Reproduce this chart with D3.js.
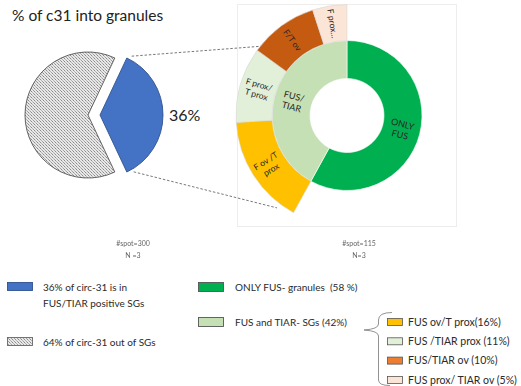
<!DOCTYPE html>
<html>
<head>
<meta charset="utf-8">
<script src="https://cdn.jsdelivr.net/npm/d3@7"></script>
<style>
  html, body { margin: 0; padding: 0; background: #fff; }
  svg { display: block; font-family: Lato, "Noto Sans", sans-serif; }
  svg text { white-space: pre; }
</style>
</head>
<body>
<svg id="chart" width="521" height="386"></svg>
<script>
// Share of circ-31 spots inside / outside FUS-TIAR granules
const mainNames = ["in SGs", "out of SGs"];
const mainValues = [36, 64];
const mainColors = ["#4472C4", "url(#dots)"];
const mainStrokes = ["#2F528F", "#555"];

// Granule breakdown: inner ring
const innerNames = [["ONLY", "FUS"], ["FUS/", "TIAR"]];
const innerValues = [58, 42];
const innerColors = ["#00B050", "#C5E0B4"];

// FUS/TIAR subdivision: outer ring
const outerNames = [["F ov /T", "prox"], ["F prox/", "T prox"], ["F/T ov"], ["F prox..."]];
const outerValues = [16, 11, 10, 5];
const outerColors = ["#FFC000", "#E2F0D9", "#C55A11", "#FBE5D6"];

// Legends
const leftLegend = [
  { lines: ["36% of circ-31 is in", "FUS/TIAR positive SGs"], fill: "#4472C4", stroke: "#2F528F" },
  { lines: ["64% of circ-31 out of SGs"], fill: "url(#dots)", stroke: "#666" }
];
const midLegend = [
  { text: "ONLY FUS- granules  (58 %)", fill: "#00B050" },
  { text: "FUS and TIAR- SGs (42%)", fill: "#C5E0B4" }
];
const subLegend = [
  { text: "FUS ov/T prox(16%)", fill: "#FFC000" },
  { text: "FUS /TIAR prox (11%)", fill: "#E2F0D9" },
  { text: "FUS/TIAR ov (10%)", fill: "#ED7D31" },
  { text: "FUS prox/ TIAR ov (5%)", fill: "#FBE5D6" }
];
const countNotes = [["#spot=300", "N =3"], ["#spot=115", "N=3"]];

const svg = d3.select("#chart");
const defs = svg.append("defs");

// fine stipple used for the "out of SGs" slice
const pat = defs.append("pattern").attr("id", "dots")
  .attr("width", 3).attr("height", 3).attr("patternUnits", "userSpaceOnUse");
pat.append("rect").attr("width", 3).attr("height", 3).attr("fill", "#e8e8e8");
pat.append("rect").attr("x", 0).attr("y", 0).attr("width", 1).attr("height", 1).attr("fill", "#8a8a8a");
pat.append("rect").attr("x", 1).attr("y", 1).attr("width", 1).attr("height", 1).attr("fill", "#b4b4b4");
pat.append("rect").attr("x", 2).attr("y", 2).attr("width", 1).attr("height", 1).attr("fill", "#a0a0a0");

const deg = Math.PI / 180;

// ---------- Title ----------
svg.append("text").attr("x", 12).attr("y", 21)
  .attr("font-size", 15.5).attr("fill", "#222").text("% of c31 into granules");

// ---------- Panel frame for the donut ----------
svg.append("rect").attr("x", 237.5).attr("y", 4.5).attr("width", 219).attr("height", 222)
  .attr("fill", "none").attr("stroke", "#ededed").attr("stroke-width", 1);

// ---------- Left pie ----------
const leftCx = 88, leftCy = 115, leftR = 63, explode = 12;
const total = d3.sum(mainValues);
const a0 = Math.PI / 2 - Math.PI * mainValues[0] / total;
const mainPie = d3.pie().sort(null).startAngle(a0).endAngle(a0 + 2 * Math.PI)(mainValues);
const mainArc = d3.arc().innerRadius(0).outerRadius(leftR);

const leftG = svg.append("g").attr("transform", `translate(${leftCx},${leftCy})`);
leftG.selectAll("path").data(mainPie).join("path")
  .attr("d", mainArc)
  .attr("transform", (d, i) => {
    if (i !== 0) return null;
    const m = (d.startAngle + d.endAngle) / 2;
    return `translate(${explode * Math.sin(m)},${-explode * Math.cos(m)})`;
  })
  .attr("fill", (d, i) => mainColors[i])
  .attr("stroke", (d, i) => mainStrokes[i])
  .attr("stroke-width", 0.9);

// percentage label beside the exploded slice
{
  const d = mainPie[0];
  const m = (d.startAngle + d.endAngle) / 2;
  const r = leftR + explode + 6;
  leftG.append("text")
    .attr("x", r * Math.sin(m)).attr("y", -r * Math.cos(m))
    .attr("dy", "0.35em").attr("font-size", 16).attr("fill", "#222")
    .text(d.data + "%");
}

// ---------- Donut ----------
const cx = 347, cy = 115.5;
const rHole = 37, rMid = 75, rOut = 111;

const innerPie = d3.pie().sort(null)(innerValues);
const innerArc = d3.arc().innerRadius(rHole).outerRadius(rMid);
const outerStart = innerPie[1].startAngle;
const outerPie = d3.pie().sort(null).startAngle(outerStart).endAngle(2 * Math.PI)(outerValues);
const outerArc = d3.arc().innerRadius(rMid).outerRadius(rOut);

// connector lines from the exploded slice toward the ring
{
  const d = mainPie[0];
  const ox = leftCx + explode * Math.sin((d.startAngle + d.endAngle) / 2);
  const oy = leftCy - explode * Math.cos((d.startAngle + d.endAngle) / 2);
  const topA = outerStart + (2 * Math.PI - outerStart) * 0.72;
  const pts = [
    [[ox + (leftR + 2) * Math.sin(d.startAngle) + 4, oy - (leftR + 2) * Math.cos(d.startAngle)],
     [cx + (rOut + 3) * Math.sin(topA) + 4, cy - (rOut + 3) * Math.cos(topA) + 14]],
    [[ox + (leftR + 2) * Math.sin(d.endAngle) + 6, oy - (leftR + 2) * Math.cos(d.endAngle) - 2],
     [cx + (rOut - 1) * Math.sin(outerStart) - 17, cy - (rOut - 1) * Math.cos(outerStart) - 4]]
  ];
  svg.append("g").selectAll("line").data(pts).join("line")
    .attr("x1", p => p[0][0]).attr("y1", p => p[0][1])
    .attr("x2", p => p[1][0]).attr("y2", p => p[1][1])
    .attr("stroke", "#555").attr("stroke-width", 0.8).attr("stroke-dasharray", "2.5,1.8");
}

const donut = svg.append("g").attr("transform", `translate(${cx},${cy})`);
donut.selectAll("path.inner").data(innerPie).join("path").attr("class", "inner")
  .attr("d", innerArc).attr("fill", (d, i) => innerColors[i])
  .attr("stroke", "#fff").attr("stroke-width", 0.6);
donut.selectAll("path.outer").data(outerPie).join("path").attr("class", "outer")
  .attr("d", outerArc).attr("fill", (d, i) => outerColors[i])
  .attr("stroke", "#d8d8d8").attr("stroke-width", 0.6);

// labels follow the ring tangentially
function ringLabels(data, names, r0, r1, size) {
  const rm = (r0 + r1) / 2;
  data.forEach((d, i) => {
    const m = (d.startAngle + d.endAngle) / 2;
    const md = m / deg;
    const rot = md < 180 ? md - 90 : md - 270;
    const x = rm * Math.sin(m), y = -rm * Math.cos(m);
    const lines = names[i];
    const lh = size * 1.2;
    const t = donut.append("text")
      .attr("transform", `translate(${x},${y}) rotate(${rot})`)
      .attr("text-anchor", "middle").attr("font-size", size).attr("fill", "#262626");
    lines.forEach((ln, k) => {
      t.append("tspan").attr("x", 0)
        .attr("y", (k - (lines.length - 1) / 2) * lh)
        .attr("dy", "0.35em").text(ln);
    });
  });
}
ringLabels(innerPie, innerNames, rHole, rMid, 9);
ringLabels(outerPie, outerNames, rMid, rOut, 8.5);

// ---------- Count notes ----------
const noteX = [133, 359];
countNotes.forEach((lines, i) => {
  lines.forEach((ln, k) => {
    svg.append("text").attr("x", noteX[i]).attr("y", 246 + k * 12)
      .attr("text-anchor", "middle").attr("font-size", 7).attr("fill", "#666")
      .style("filter", "blur(0.3px)").text(ln);
  });
});

// ---------- Left legend ----------
const leftRows = [287, 342];
leftLegend.forEach((it, i) => {
  const y = leftRows[i];
  svg.append("rect").attr("x", 7.5).attr("y", y - 4.5).attr("width", 25).attr("height", 8)
    .attr("fill", it.fill).attr("stroke", it.stroke).attr("stroke-width", 0.9);
  it.lines.forEach((ln, k) => {
    svg.append("text").attr("x", 43).attr("y", y + k * 16.5).attr("dy", "0.35em")
      .attr("font-size", 10).attr("fill", "#2a2a2a").text(ln);
  });
});

// ---------- Middle legend ----------
const midRows = [287, 322];
midLegend.forEach((it, i) => {
  const y = midRows[i];
  svg.append("rect").attr("x", 198.5).attr("y", y - 4.5).attr("width", 25).attr("height", 9)
    .attr("fill", it.fill).attr("stroke", "#555").attr("stroke-width", 0.9);
  svg.append("text").attr("x", 235).attr("y", y).attr("dy", "0.35em")
    .attr("font-size", 10).attr("fill", "#2a2a2a").text(it.text);
});

// curly brace grouping the FUS/TIAR subdivisions
{
  const p = d3.path();
  p.moveTo(392, 312.5);
  p.quadraticCurveTo(378.5, 312.5, 378.5, 320);
  p.lineTo(378.5, 324);
  p.quadraticCurveTo(378.5, 329, 364, 330);
  p.quadraticCurveTo(378.5, 331, 378.5, 336);
  p.lineTo(378.5, 380);
  p.quadraticCurveTo(378.5, 385.5, 390, 385.5);
  svg.append("path").attr("d", p.toString()).attr("fill", "none")
    .attr("stroke", "#777").attr("stroke-width", 0.8);
}

// ---------- Sub legend ----------
subLegend.forEach((it, i) => {
  const y = 322 + i * 19.3;
  svg.append("rect").attr("x", 387.5).attr("y", y - 3.5).attr("width", 15).attr("height", 7)
    .attr("fill", it.fill).attr("stroke", "#555").attr("stroke-width", 0.8);
  svg.append("text").attr("x", 408).attr("y", y).attr("dy", "0.35em")
    .attr("font-size", 10.5).attr("fill", "#2a2a2a").text(it.text);
});
</script>
</body>
</html>
